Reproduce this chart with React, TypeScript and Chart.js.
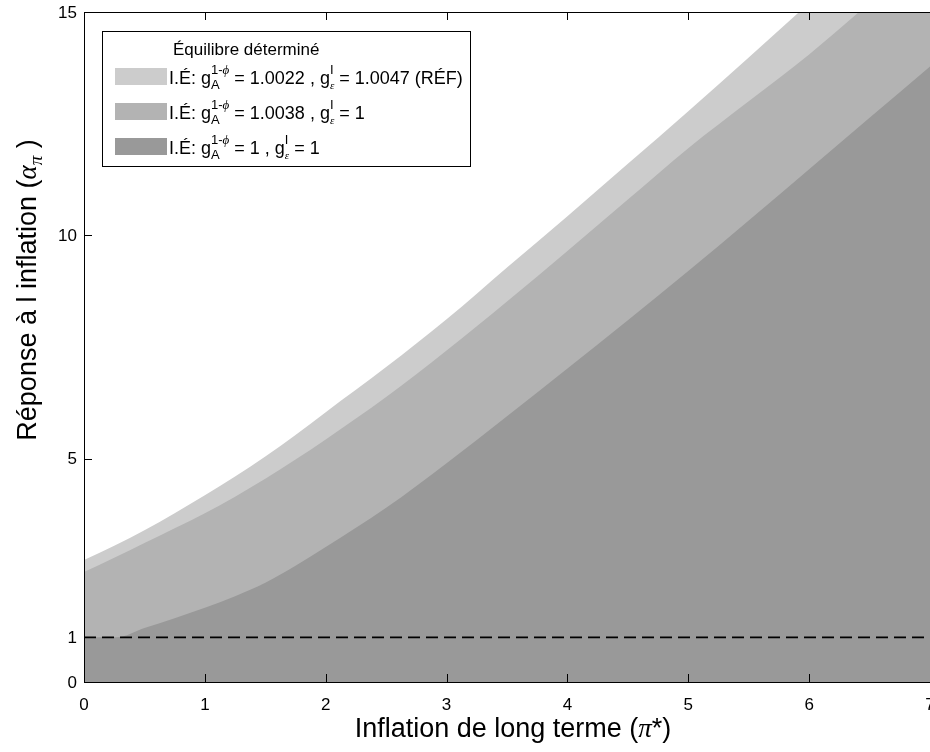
import React, { useEffect, useRef } from 'react';
import { Chart, registerables } from 'chart.js';

Chart.register(...registerables);

// ---------- data ----------
const X_VALUES = [0, 0.25, 0.5, 0.75, 1, 1.25, 1.5, 1.75, 2, 2.5, 3, 3.5, 4, 4.5, 5, 5.5, 6, 6.5, 7];
const REF_UPPER = [2.73, 3.05, 3.4, 3.78, 4.18, 4.6, 5.05, 5.53, 6.04, 7.05, 8.12, 9.28, 10.43, 11.6, 12.78, 13.98, 15.2, 16.4, 17.6];
const MED_UPPER = [2.46, 2.78, 3.11, 3.44, 3.78, 4.15, 4.55, 4.98, 5.43, 6.38, 7.42, 8.52, 9.65, 10.8, 11.95, 13.0, 14.05, 15.2, 16.3];
const DARK_X = [0, 0.27, 0.5, 0.75, 1, 1.25, 1.5, 1.75, 2, 2.5, 3, 3.5, 4, 4.5, 5, 5.5, 6, 6.5, 7];
const DARK_UPPER = [1, 1, 1.21, 1.43, 1.66, 1.92, 2.22, 2.6, 3.02, 3.9, 4.9, 5.95, 7.02, 8.1, 9.2, 10.33, 11.48, 12.63, 13.78];
const THRESHOLD = 1;

const X_TICKS = [0, 1, 2, 3, 4, 5, 6, 7];
const Y_TICKS = [0, 1, 5, 10, 15];

const LEGEND_TITLE = 'Équilibre déterminé';
const LEGEND_GA = ['1.0022', '1.0038', '1'];
const LEGEND_GE = ['1.0047', '1', '1'];
const LEGEND_SUFFIX = [' (RÉF)', '', ''];
const SERIES_COLORS = ['#cccccc', '#b3b3b3', '#999999'];

const X_TITLE = 'Inflation de long terme (';
const Y_TITLE = 'Réponse à l inflation (';

// ---------- text helpers ----------
const SANS = '"Liberation Sans", Arial, Helvetica, sans-serif';
const SERIF = '"Liberation Serif", "DejaVu Serif", "Times New Roman", serif';
const f = (px: number) => `${px}px ${SANS}`;
const fi = (px: number) => `italic ${px}px ${SERIF}`;

type Seg = { t: string; f: string; dy?: number } | { sup: Seg[]; sub: Seg[]; supDy: number; subDy: number };

function segWidth(ctx: CanvasRenderingContext2D, segs: Seg[]): number {
  let w = 0;
  for (const s of segs) {
    if ('t' in s) {
      ctx.font = s.f;
      w += ctx.measureText(s.t).width;
    } else {
      w += Math.max(segWidth(ctx, s.sup), segWidth(ctx, s.sub));
    }
  }
  return w;
}

function drawSegs(ctx: CanvasRenderingContext2D, x: number, base: number, segs: Seg[]): number {
  for (const s of segs) {
    if ('t' in s) {
      ctx.font = s.f;
      ctx.fillText(s.t, x, base + (s.dy || 0));
      x += ctx.measureText(s.t).width;
    } else {
      const w1 = segWidth(ctx, s.sup);
      const w2 = segWidth(ctx, s.sub);
      drawSegs(ctx, x, base - s.supDy, s.sup);
      drawSegs(ctx, x, base + s.subDy, s.sub);
      x += Math.max(w1, w2);
    }
  }
  return x;
}

const axesPlugin = {
  id: 'matlabAxes',
  afterDraw(chart: any) {
    const { ctx, chartArea } = chart;
    const xs = chart.scales.x;
    const ys = chart.scales.y;
    const { left, right, top, bottom } = chartArea;
    ctx.save();
    ctx.strokeStyle = '#000';
    ctx.lineWidth = 1;
    ctx.beginPath();
    ctx.moveTo(left + 0.5, top);
    ctx.lineTo(left + 0.5, bottom);
    ctx.moveTo(left, bottom + 0.5);
    ctx.lineTo(right, bottom + 0.5);
    ctx.moveTo(left, top + 0.5);
    ctx.lineTo(right, top + 0.5);
    // inward ticks
    const TL = 8;
    for (const v of X_TICKS) {
      const px = Math.round(xs.getPixelForValue(v)) + 0.5;
      ctx.moveTo(px, bottom);
      ctx.lineTo(px, bottom - TL);
      ctx.moveTo(px, top);
      ctx.lineTo(px, top + TL);
    }
    for (const v of Y_TICKS) {
      const py = Math.round(ys.getPixelForValue(v)) + 0.5;
      ctx.moveTo(left, py);
      ctx.lineTo(left + TL, py);
    }
    ctx.stroke();

    // tick labels
    ctx.fillStyle = '#000';
    ctx.font = f(17);
    ctx.textAlign = 'center';
    ctx.textBaseline = 'alphabetic';
    for (const v of X_TICKS) {
      ctx.fillText(String(v), xs.getPixelForValue(v), bottom + 28);
    }
    ctx.textAlign = 'right';
    ctx.textBaseline = 'middle';
    for (const v of Y_TICKS) {
      ctx.fillText(String(v), left - 7, ys.getPixelForValue(v) + 1);
    }

    // axis titles
    ctx.textAlign = 'left';
    ctx.textBaseline = 'alphabetic';
    const xSegs: Seg[] = [
      { t: X_TITLE, f: f(27) },
      { t: 'π', f: fi(27) },
      { t: '*)', f: f(27) },
    ];
    const xw = segWidth(ctx, xSegs);
    drawSegs(ctx, 513 - xw / 2, 737, xSegs);

    const ySegs: Seg[] = [
      { t: Y_TITLE, f: f(27) },
      { t: 'α', f: fi(27) },
      { t: 'π', f: fi(19), dy: 6 },
      { t: ' )', f: f(27) },
    ];
    const yw = segWidth(ctx, ySegs);
    ctx.save();
    ctx.translate(36, 290);
    ctx.rotate(-Math.PI / 2);
    drawSegs(ctx, -yw / 2, 0, ySegs);
    ctx.restore();

    // legend
    const bx = 102, by = 31, bw = 368, bh = 135;
    ctx.fillStyle = '#fff';
    ctx.fillRect(bx, by, bw, bh);
    ctx.strokeStyle = '#000';
    ctx.lineWidth = 1;
    ctx.strokeRect(bx + 0.5, by + 0.5, bw, bh);
    ctx.fillStyle = '#000';
    ctx.font = f(17);
    ctx.fillText(LEGEND_TITLE, 173, 55);
    for (let i = 0; i < 3; i++) {
      const rowBase = 84 + i * 35;
      ctx.fillStyle = SERIES_COLORS[i];
      ctx.fillRect(115, rowBase - 16, 52, 17);
      ctx.fillStyle = '#000';
      const segs: Seg[] = [
        { t: 'I.É: g', f: f(18) },
        { sup: [{ t: '1-', f: f(13) }, { t: 'ϕ', f: fi(13) }], sub: [{ t: 'A', f: f(13) }], supDy: 10, subDy: 5 },
        { t: ` = ${LEGEND_GA[i]} , g`, f: f(18) },
        { sup: [{ t: 'I', f: f(13) }], sub: [{ t: 'ε', f: fi(11) }], supDy: 10, subDy: 5 },
        { t: ` = ${LEGEND_GE[i]}${LEGEND_SUFFIX[i]}`, f: f(18) },
      ];
      drawSegs(ctx, 169, rowBase, segs);
    }
    ctx.restore();
  },
};

const bgPlugin = {
  id: 'bgWhite',
  beforeDraw(chart: any) {
    const { ctx, width, height } = chart;
    ctx.save();
    ctx.fillStyle = '#fff';
    ctx.fillRect(0, 0, width, height);
    ctx.restore();
  },
};

export default function App() {
  const ref = useRef<HTMLCanvasElement | null>(null);

  useEffect(() => {
    document.body.style.margin = '0';
    document.body.style.overflow = 'hidden';
    const canvas = ref.current;
    if (!canvas) return;
    const pts = (xs: number[], ys: number[]) => xs.map((x, i) => ({ x, y: ys[i] }));
    const area = (label: string, data: any[], color: string) => ({
      label,
      data,
      backgroundColor: color,
      borderColor: color,
      borderWidth: 0,
      pointRadius: 0,
      fill: 'origin',
      cubicInterpolationMode: 'monotone' as const,
    });
    const chart = new Chart(canvas, {
      type: 'line',
      data: {
        datasets: [
          {
            label: 'seuil',
            data: [{ x: X_TICKS[0], y: THRESHOLD }, { x: X_TICKS[X_TICKS.length - 1], y: THRESHOLD }],
            borderColor: '#000',
            borderWidth: 1.8,
            borderDash: [12, 6],
            pointRadius: 0,
            fill: false,
          } as any,
          area('dark', pts(DARK_X, DARK_UPPER), SERIES_COLORS[2]),
          area('medium', pts(X_VALUES, MED_UPPER), SERIES_COLORS[1]),
          area('ref', pts(X_VALUES, REF_UPPER), SERIES_COLORS[0]),
        ],
      },
      options: {
        animation: false,
        responsive: false,
        events: [],
        layout: { padding: { left: 84, top: 12, right: 0, bottom: 70 } },
        scales: {
          x: { type: 'linear', min: 0, max: 7, display: false },
          y: { type: 'linear', min: 0, max: 15, display: false },
        },
        plugins: { legend: { display: false }, tooltip: { enabled: false } },
      },
      plugins: [bgPlugin, axesPlugin],
    });
    return () => chart.destroy();
  }, []);

  return (
    <div style={{ width: 930, height: 752 }}>
      <canvas ref={ref} width={930} height={752} style={{ display: 'block' }} />
    </div>
  );
}
